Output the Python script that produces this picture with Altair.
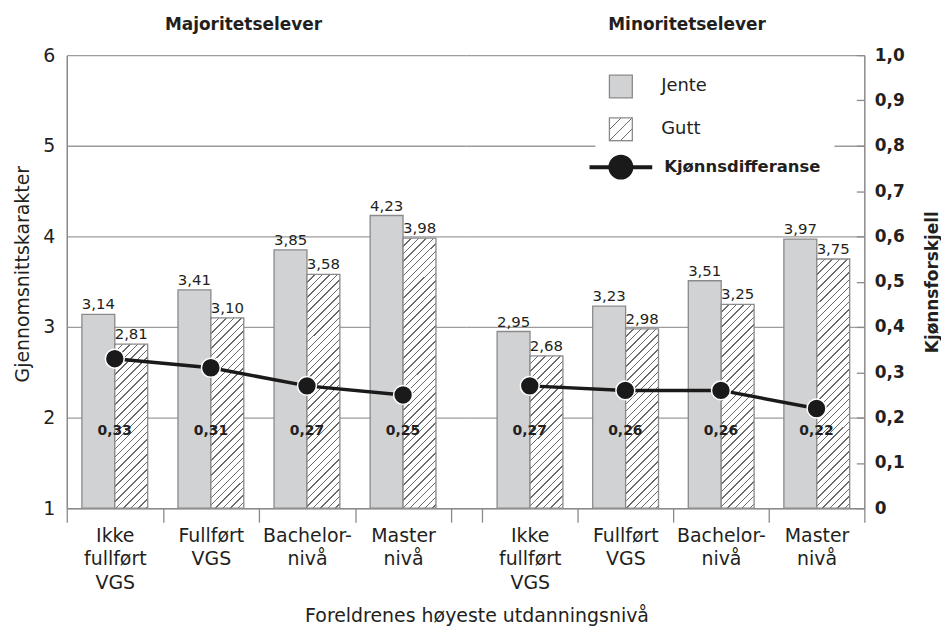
import altair as alt
import pandas as pd

# ---------------- data ----------------
kategorier = ["Ikke fullført VGS", "Fullført VGS", "Bachelor- nivå", "Master nivå"]
kjonn = ["Jente", "Gutt"]
maj_jente = [3.14, 3.41, 3.85, 4.23]
maj_gutt = [2.81, 3.10, 3.58, 3.98]
maj_diff = [0.33, 0.31, 0.27, 0.25]
min_jente = [2.95, 3.23, 3.51, 3.97]
min_gutt = [2.68, 2.98, 3.25, 3.75]
min_diff = [0.27, 0.26, 0.26, 0.22]
y_ticks = [1, 2, 3, 4, 5, 6]
y2_ticks = [0, 0.1, 0.2, 0.3, 0.4, 0.5, 0.6, 0.7, 0.8, 0.9, 1.0]

# ---------------- style ----------------
FONT = "DejaVu Sans"
TXT = "#231f20"
JENTE_FILL = "#d1d2d4"
BAR_STROKE = "#8a8a8a"
GRID = "#9c9c9c"
AXIS = "#8a8a8a"
LINE = "#1a1a1a"
H = 455
W_L, W_R = 401, 400
STEP_L, STEP_R = 96.5, 96.0
BAR_W = 33.0
Y_MIN, Y_MAX = 1, 6


def hatch(w, h, period=7.5, lw=1.4, fg="#6a6a6a", bg="#ffffff"):
    """Diagonal '/' stripes as a linear gradient in bounding-box units."""
    L = w + h
    s = L * w * h / (w * w + h * h)
    stops = []
    pos = 0.0
    while pos < L:
        a = round(pos / L, 5)
        b = round(min((pos + lw) / L, 1), 5)
        c = round(min((pos + period) / L, 1), 5)
        stops += [
            {"offset": a, "color": fg},
            {"offset": b, "color": fg},
            {"offset": b, "color": bg},
            {"offset": c, "color": bg},
        ]
        pos += period
    return {"gradient": "linear", "x1": 0, "y1": 0,
            "x2": round(s / h, 5), "y2": round(s / w, 5), "stops": stops}


def panel(jente, gutt, diff, title, first, title_dx):
    bars = pd.DataFrame({
        "kategori": kategorier * 2,
        "kjonn": ["Jente"] * 4 + ["Gutt"] * 4,
        "verdi": jente + gutt,
    })
    diffs = pd.DataFrame({
        "kategori": kategorier,
        "diff": diff,
        "serie": ["Kjønnsdifferanse"] * 4,
    })
    W = W_L if first else W_R
    step = STEP_L if first else STEP_R
    p_out = (W / step - 4) / 2

    x = alt.X(
        "kategori:N", sort=kategorier,
        scale=alt.Scale(paddingInner=0, paddingOuter=p_out, align=0 if first else 1),
        axis=alt.Axis(
            title=None, labelExpr="split(datum.label, ' ')", tickBand="extent",
            tickSize=14, tickColor=AXIS, tickWidth=1.3, domainColor=AXIS,
            domainWidth=1.5, labelFontSize=19, labelLineHeight=24,
            labelPadding=4, labelColor=TXT, labelAngle=0, labelBaseline="top",
            labelOverlap=False, grid=False,
        ),
    )
    xo = alt.XOffset("kjonn:N", sort=kjonn,
                     scale=alt.Scale(domain=kjonn, paddingInner=0, paddingOuter=0.46))

    if first:
        yaxis = alt.Axis(values=y_ticks, title="Gjennomsnittskarakter", grid=True,
                         gridColor=GRID, gridWidth=1.3, ticks=False, domainColor=AXIS,
                         domainWidth=1.5, labelFontSize=19, labelPadding=12,
                         labelColor=TXT, titleFontSize=19, titleFontWeight="normal",
                         titleColor=TXT, titlePadding=10, titleY=H / 2 - 8)
    else:
        # grid lines plus the right-hand frame line
        yaxis = alt.Axis(orient="right", values=y_ticks, title=None, grid=True,
                         gridColor=GRID, gridWidth=1.3, ticks=False, labels=False,
                         domain=True, domainColor=AXIS, domainWidth=1.5,
                         minExtent=0, maxExtent=0)
    y = alt.Y("verdi:Q", scale=alt.Scale(domain=[Y_MIN, Y_MAX], zero=False), axis=yaxis)
    y2 = alt.datum(Y_MIN)

    base = alt.Chart(bars)

    jente_enc = dict(x=x, xOffset=xo, y=y, y2=y2)
    if not first:
        jente_enc["fill"] = alt.Fill(
            "kjonn:N",
            scale=alt.Scale(domain=["Jente"], range=[JENTE_FILL]),
            legend=alt.Legend(
                title=None, orient="none", legendX=538, legendY=13,
                symbolType="square", symbolSize=529, symbolStrokeColor=BAR_STROKE,
                symbolStrokeWidth=1.3, labelFontSize=18, labelColor=TXT,
                labelFont=FONT, labelOffset=28, padding=6, fillColor="white",
            ),
        )
    bars_j = base.transform_filter("datum.kjonn == 'Jente'").mark_bar(
        fill=JENTE_FILL, stroke=BAR_STROKE, strokeWidth=1.3
    ).encode(**jente_enc)

    gutt_layers = []
    for cat, v in zip(kategorier, gutt):
        h = (v - Y_MIN) / (Y_MAX - Y_MIN) * H
        gutt_layers.append(
            base.transform_filter(
                f"datum.kjonn == 'Gutt' && datum.kategori == '{cat}'"
            ).mark_bar(fill=hatch(BAR_W, h), stroke=BAR_STROKE, strokeWidth=1.3)
            .encode(x=x, xOffset=xo, y=y, y2=y2)
        )
    if not first:
        # carries only the legend entry for "Gutt" (no data rows drawn)
        gutt_layers.append(
            base.transform_filter("false").mark_bar(
                fill=hatch(23, 23, period=11), stroke=BAR_STROKE, strokeWidth=1.3
            ).encode(
                x=x, xOffset=xo, y=y, y2=y2,
                opacity=alt.Opacity(
                    "kjonn:O",
                    scale=alt.Scale(domain=["Gutt"], range=[1]),
                    legend=alt.Legend(
                        title=None, orient="none", legendX=538, legendY=56,
                        symbolType="square", symbolSize=529, symbolStrokeWidth=1.3,
                        symbolOpacity=1, labelFontSize=18, labelColor=TXT,
                        labelFont=FONT, labelOffset=28, padding=6,
                        fillColor="white",
                    ),
                ),
            )
        )

    bar_text = base.transform_calculate(
        lbl="replace(format(datum.verdi, '.2f'), '.', ',')"
    ).mark_text(baseline="alphabetic", dy=-5, fontSize=15, color=TXT).encode(
        x=x, xOffset=xo, y=y, text="lbl:N"
    )

    bar_layer = alt.layer(bars_j, *gutt_layers, bar_text)

    if first:
        y2axis = None
    else:
        # pulled 8 px inside the frame so the ticks point inwards
        y2axis = alt.Axis(
            orient="right", offset=-8, values=y2_ticks,
            labelExpr="datum.value == 0 ? '0' : replace(format(datum.value, '.1f'), '.', ',')",
            grid=False, domain=False, tickSize=8, tickColor=AXIS, tickWidth=1.3,
            labelFontSize=17, labelFontWeight="bold", labelPadding=10,
            labelColor=TXT, title="Kjønnsforskjell", titleFontSize=17,
            titleFontWeight="bold", titleAngle=270, titleBaseline="top",
            titlePadding=20, titleColor=TXT,
        )
    yd = alt.Y("diff:Q", scale=alt.Scale(domain=[0, 1]), axis=y2axis)

    dbase = alt.Chart(diffs)
    line_enc = dict(x=x, y=yd)
    if not first:
        line_enc["stroke"] = alt.Stroke(
            "serie:N",
            scale=alt.Scale(domain=["Kjønnsdifferanse"], range=[LINE]),
            legend=alt.Legend(
                title=None, orient="none", legendX=531, legendY=87,
                symbolType="M-3,0H-1M1,0H3M-1,0A1,1 0 1,1 1,0A1,1 0 1,1 -1,0Z",
                symbolSize=441, symbolStrokeWidth=4, symbolStrokeColor=LINE,
                symbolFillColor=LINE,
                labelFontSize=16.5, labelFontWeight="bold", labelColor=TXT,
                labelFont=FONT, labelOffset=31, padding=13, fillColor="white",
            ),
        )
    line = dbase.mark_line(color=LINE, strokeWidth=3.5).encode(**line_enc)
    pts = dbase.mark_circle(size=360, color=LINE, opacity=1, stroke="white",
                            strokeWidth=1.5).encode(x=x, y=yd)
    dtext = dbase.transform_calculate(
        lbl="replace(format(datum.diff, '.2f'), '.', ',')"
    ).mark_text(fontSize=14, fontWeight="bold", color=TXT, baseline="middle").encode(
        x=x, y=alt.Y(datum=0.17, scale=alt.Scale(domain=[0, 1]), axis=y2axis),
        text="lbl:N"
    )
    line_layer = alt.layer(line, pts, dtext)

    return alt.layer(bar_layer, line_layer).resolve_scale(y="independent").properties(
        width=W, height=H,
        title=alt.TitleParams(title, anchor="middle", dx=title_dx, fontSize=17,
                              fontWeight="bold", color=TXT, font=FONT, offset=12),
    )


left = panel(maj_jente, maj_gutt, maj_diff, "Majoritetselever", True, -23)
right = panel(min_jente, min_gutt, min_diff, "Minoritetselever", False, 22)

chart = alt.hconcat(left, right, spacing=0).properties(
    title=alt.TitleParams("Foreldrenes høyeste utdanningsnivå", orient="bottom",
                          anchor="middle", fontSize=19, fontWeight="normal",
                          color=TXT, font=FONT, offset=14),
    padding={"left": 5, "top": 7, "right": 0, "bottom": 5},
).configure(font=FONT).configure_view(stroke=None)

chart.save("out.html", embed_options={"renderer": "svg", "actions": False})
